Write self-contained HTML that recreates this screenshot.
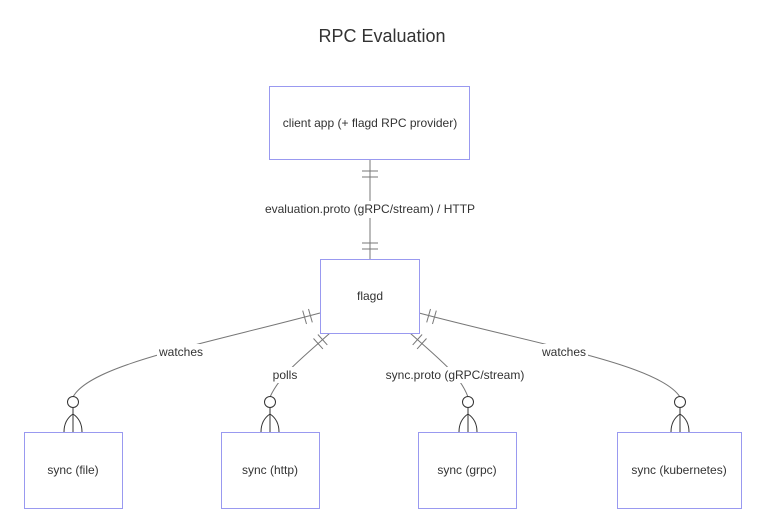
<!DOCTYPE html>
<html><head><style>body{margin:0;background:#fff}svg{display:block}text{font-family:"Liberation Sans","DejaVu Sans",sans-serif;fill:#333}</style></head>
<body>
<svg width="760" height="528" viewBox="0 0 760 528" xmlns="http://www.w3.org/2000/svg">
<text x="382" y="42" font-size="18" text-anchor="middle">RPC Evaluation</text>
<g fill="none" stroke="#777" stroke-width="1">
<line x1="370" y1="159" x2="370" y2="259"/>
<line x1="362" y1="171" x2="378" y2="171"/><line x1="362" y1="177" x2="378" y2="177"/>
<line x1="362" y1="243" x2="378" y2="243"/><line x1="362" y1="249" x2="378" y2="249"/>
<path d="M320,313 C200,345 90,365 73,397"/>
<path d="M330,333 C300,360 280,375 270,397"/>
<path d="M410,333 C440,360 460,375 468,397"/>
<path d="M419,313 C540,345 660,365 680,397"/>
<line x1="308.5" y1="309" x2="312.3" y2="322.4"/><line x1="302.7" y1="310.6" x2="306.5" y2="324"/>
<line x1="317.9" y1="334.5" x2="327.3" y2="344.9"/><line x1="313.5" y1="338.5" x2="322.9" y2="348.9"/>
<line x1="422.1" y1="334.5" x2="412.7" y2="344.9"/><line x1="426.5" y1="338.5" x2="417.1" y2="348.9"/>
<line x1="430.5" y1="309" x2="426.7" y2="322.4"/><line x1="436.3" y1="310.6" x2="432.5" y2="324"/>
</g>
<g fill="#fff" stroke="#333" stroke-width="1">
<circle cx="73" cy="402" r="5.5"/><circle cx="270" cy="402" r="5.5"/><circle cx="468" cy="402" r="5.5"/><circle cx="680" cy="402" r="5.5"/>
</g>
<g fill="none" stroke="#333" stroke-width="1">
<path d="M73,408 V432 M73,414 Q64,420 64,432 M73,414 Q82,420 82,432"/>
<path d="M270,408 V432 M270,414 Q261,420 261,432 M270,414 Q279,420 279,432"/>
<path d="M468,408 V432 M468,414 Q459,420 459,432 M468,414 Q477,420 477,432"/>
<path d="M680,408 V432 M680,414 Q671,420 671,432 M680,414 Q689,420 689,432"/>
</g>
<g fill="#fff" stroke="#9999f0" stroke-width="1">
<rect x="269.5" y="86.5" width="200" height="73"/>
<rect x="320.5" y="259.5" width="99" height="74"/>
<rect x="24.5" y="432.5" width="98" height="76"/>
<rect x="221.5" y="432.5" width="98" height="76"/>
<rect x="418.5" y="432.5" width="98" height="76"/>
<rect x="617.5" y="432.5" width="124" height="76"/>
</g>
<g fill="#fff">
<rect x="262" y="201" width="216" height="17"/>
<rect x="157" y="344" width="48" height="16"/>
<rect x="271" y="367" width="28" height="16"/>
<rect x="384" y="367" width="142" height="16"/>
<rect x="540" y="344" width="48" height="16"/>
</g>
<g font-size="12" text-anchor="middle">
<text x="370" y="127">client app (+ flagd RPC provider)</text>
<text x="370" y="213">evaluation.proto (gRPC/stream) / HTTP</text>
<text x="370" y="300">flagd</text>
<text x="181" y="356">watches</text>
<text x="285" y="379">polls</text>
<text x="455" y="379">sync.proto (gRPC/stream)</text>
<text x="564" y="356">watches</text>
<text x="73" y="474">sync (file)</text>
<text x="270" y="474">sync (http)</text>
<text x="467" y="474">sync (grpc)</text>
<text x="679" y="474">sync (kubernetes)</text>
</g>
</svg>
</body></html>
